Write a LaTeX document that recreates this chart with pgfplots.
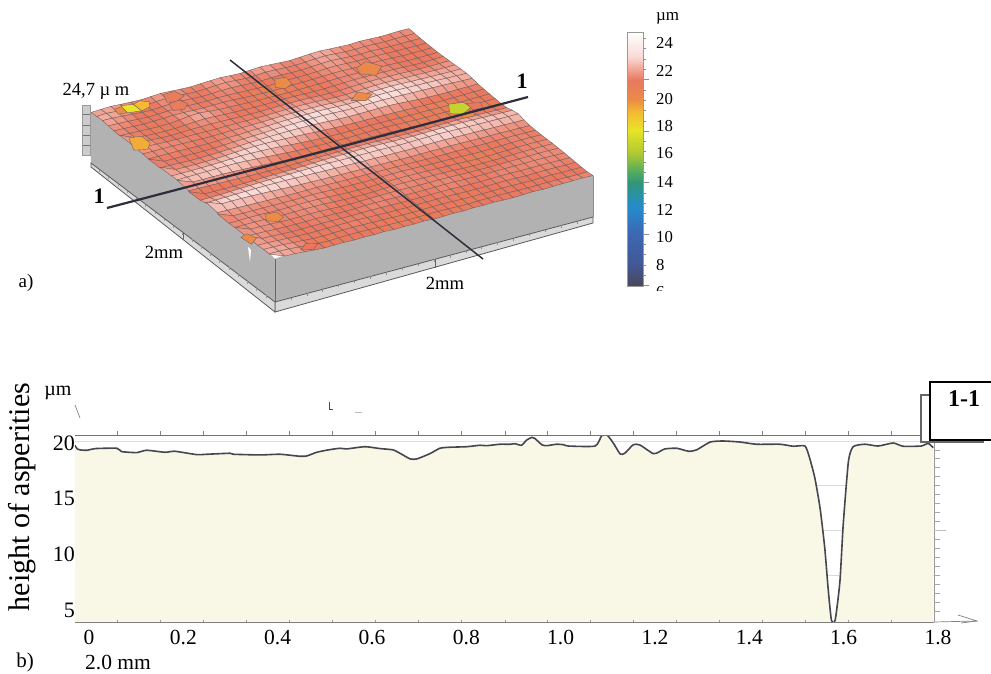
\documentclass[border=0pt]{standalone}
\usepackage{fontspec}
\setmainfont{Liberation Serif}
\usepackage{pgfplots}
\usepackage{pgfplotstable}
\pgfplotsset{compat=1.18}
\definecolor{cma}{RGB}{72,72,88}
\definecolor{cmb}{RGB}{66,88,150}
\definecolor{cmc}{RGB}{60,105,180}
\definecolor{cmd}{RGB}{35,140,205}
\definecolor{cme}{RGB}{50,150,120}
\definecolor{cmf}{RGB}{90,175,90}
\definecolor{cmg}{RGB}{175,200,50}
\definecolor{cmh}{RGB}{232,228,40}
\definecolor{cmi}{RGB}{245,185,50}
\definecolor{cmj}{RGB}{235,140,70}
\definecolor{cmk}{RGB}{233,120,96}
\definecolor{cml}{RGB}{241,165,150}
\definecolor{cmm}{RGB}{249,218,214}
\definecolor{cmn}{RGB}{255,255,255}
\definecolor{meshc}{RGB}{120,96,96}
\definecolor{wallc}{RGB}{178,178,178}
\definecolor{plinth}{RGB}{218,218,218}
\definecolor{paper}{RGB}{249,247,229}
\definecolor{prof}{RGB}{70,70,78}
\definecolor{lined}{RGB}{45,45,60}
\pgfdeclareverticalshading{cbar}{100bp}{color(0bp)=(cma);color(25bp)=(cma);color(29.35bp)=(cmb);color(35.6bp)=(cmc);color(40.5bp)=(cmd);color(45.4bp)=(cme);color(47.85bp)=(cmf);color(51.1bp)=(cmg);color(55.7bp)=(cmh);color(59.25bp)=(cmi);color(61.7bp)=(cmj);color(65.5bp)=(cmk);color(67.65bp)=(cml);color(70.1bp)=(cmm);color(75bp)=(cmn);color(100bp)=(cmn)}
\pgfplotstableread{
x y
-0.030 19.80
-0.025 19.47
-0.019 19.38
-0.004 19.35
0.013 19.50
0.059 19.53
0.069 19.23
0.101 19.14
0.122 19.35
0.161 19.17
0.182 19.26
0.228 18.96
0.250 18.99
0.299 19.08
0.306 18.99
0.363 18.93
0.405 18.99
0.447 18.81
0.462 18.84
0.483 19.17
0.507 19.38
0.532 19.53
0.546 19.47
0.585 19.67
0.617 19.50
0.645 19.38
0.663 18.99
0.681 18.57
0.695 18.57
0.723 19.05
0.744 19.53
0.765 19.62
0.801 19.67
0.829 19.80
0.843 19.76
0.871 19.89
0.893 19.89
0.903 19.94
0.917 19.80
0.928 20.27
0.939 20.51
0.945 20.42
0.960 19.85
0.970 19.76
0.991 19.89
1.006 19.85
1.016 19.73
1.073 19.73
1.087 20.66
1.099 20.69
1.112 19.97
1.126 19.02
1.136 19.08
1.154 19.85
1.168 19.82
1.196 19.05
1.207 19.17
1.221 19.47
1.246 19.53
1.271 19.26
1.288 19.38
1.317 20.09
1.345 20.18
1.380 20.09
1.415 19.89
1.465 19.89
1.493 19.71
1.518 19.73
1.528 18.63
1.539 16.83
1.550 14.14
1.560 10.54
1.567 6.95
1.574 4.10
1.582 4.10
1.592 7.54
1.599 12.64
1.610 18.33
1.620 19.67
1.645 19.89
1.673 19.73
1.705 20.00
1.726 19.71
1.765 19.73
1.779 19.97
1.790 19.58
}\profile
\begin{document}
\begin{tikzpicture}
\path[use as bounding box] (0,0) rectangle (991pt,673pt);
% ---------- surface ----------
\begin{axis}[anchor=origin,at={(275pt,370pt)},disabledatascaling,
  x={(159pt,42pt)},y={(-92pt,73.5pt)},z={(0pt,2pt)},
  xmin=0,xmax=2,ymin=0,ymax=2,zmin=-10,zmax=30,hide axis,clip=false,
  point meta min=6.4,point meta max=24.8,
  colormap={scale}{color(64)=(cma);color(80)=(cmb);color(103)=(cmc);color(121)=(cmd);color(139)=(cme);color(148)=(cmf);color(160)=(cmg);color(177)=(cmh);color(190)=(cmi);color(199)=(cmj);color(213)=(cmk);color(221)=(cml);color(230)=(cmm);color(248)=(cmn)}]
\addplot3[fill=wallc,draw=none,no marks] coordinates {(0,0,0.5)(2,0,1)(2,0,21.7)(1.9,0,23)(0.1,0,23)(0,0,22.1)} -- cycle;
\addplot3[fill=wallc,draw=none,no marks] coordinates {(0,0,0.5)(0,2,-3.5)(0,2,21.8)(0,1.9,23)(0,0.1,23)(0,0,22.1)} -- cycle;
\addplot3[fill=plinth,draw=black!65,line width=0.8pt,no marks] coordinates {(0,0,-4.5)(2,0,-2)(2,0,1)(0,0,0.5)} -- cycle;
\addplot3[fill=plinth,draw=black!65,line width=0.8pt,no marks] coordinates {(0,0,-4.5)(0,2,-5.5)(0,2,-3.5)(0,0,0.5)} -- cycle;
\addplot3[draw=black!60,line width=0.8pt,no marks] coordinates {(0,0,0.5)(0,0,21.9)};
\addplot3[draw=black!45,line width=0.6pt,no marks] coordinates {(2,0,1)(2,0,21.7)};
\addplot3[surf,shader=faceted,faceted color=meshc,line width=0.42pt,mesh/cols=33,z buffer=none,point meta=z]
 table[row sep=crcr,header=false,x expr={mod(\coordindex,33)*0.0625},y expr={(32-floor(\coordindex/33))*0.0625},z index=0]{
21.8\\22.0\\22.2\\21.9\\21.7\\21.5\\21.8\\22.1\\21.9\\21.6\\21.4\\21.7\\21.9\\22.1\\21.8\\21.6\\21.9\\22.2\\22.0\\21.7\\21.5\\21.8\\22.1\\22.3\\22.0\\21.8\\21.6\\21.9\\21.7\\21.5\\21.6\\21.8\\21.7\\
22.1\\22.3\\22.0\\21.7\\21.4\\21.3\\21.6\\21.9\\21.8\\21.5\\21.3\\21.5\\21.8\\22.0\\21.7\\21.4\\21.6\\21.9\\21.8\\21.5\\21.4\\21.7\\22.0\\22.2\\21.9\\21.6\\21.5\\21.7\\21.5\\21.4\\21.5\\21.6\\21.5\\
22.3\\22.2\\21.9\\21.6\\21.2\\21.0\\21.4\\21.7\\21.6\\21.4\\21.2\\21.4\\21.6\\21.7\\21.5\\21.2\\21.2\\21.4\\21.5\\21.3\\21.3\\21.6\\21.9\\22.1\\21.8\\21.5\\21.4\\21.6\\21.4\\21.3\\21.4\\21.4\\21.4\\
22.0\\21.8\\21.6\\21.3\\21.1\\21.2\\21.5\\21.6\\21.5\\21.3\\21.3\\21.5\\21.5\\21.4\\21.2\\21.0\\20.9\\21.0\\21.2\\21.2\\21.3\\21.5\\21.8\\21.9\\21.7\\21.5\\21.5\\21.6\\21.4\\21.3\\21.3\\21.3\\21.3\\
21.7\\21.6\\21.4\\21.2\\21.3\\21.5\\21.7\\21.7\\21.5\\21.4\\21.5\\21.6\\21.5\\21.2\\21.0\\20.9\\20.8\\20.9\\21.0\\21.1\\21.3\\21.5\\21.6\\21.7\\21.5\\21.4\\21.5\\21.6\\21.4\\21.2\\21.2\\21.2\\21.3\\
21.6\\21.5\\21.3\\21.1\\21.0\\21.1\\21.6\\22.2\\22.5\\22.0\\21.6\\21.5\\21.3\\21.1\\21.0\\21.0\\20.9\\20.9\\21.0\\21.1\\21.2\\21.4\\21.5\\21.6\\21.5\\21.4\\21.5\\21.5\\21.3\\21.1\\21.1\\21.2\\21.3\\
21.8\\21.6\\21.3\\21.0\\20.9\\21.0\\21.3\\21.7\\21.9\\21.7\\21.5\\21.3\\21.2\\21.1\\21.1\\21.2\\21.3\\21.3\\21.2\\21.1\\21.1\\21.3\\21.5\\21.7\\21.7\\21.6\\21.6\\21.6\\21.4\\21.2\\21.2\\21.4\\21.5\\
22.1\\21.8\\21.5\\21.2\\21.1\\21.2\\21.4\\21.5\\21.6\\21.5\\21.4\\21.3\\21.3\\21.3\\21.4\\21.5\\21.6\\21.6\\21.5\\21.3\\21.2\\21.3\\21.6\\21.8\\21.9\\21.9\\21.8\\21.8\\21.6\\21.5\\21.5\\21.6\\21.7\\
22.0\\21.9\\21.7\\21.5\\21.5\\21.5\\21.5\\21.4\\21.4\\21.5\\21.5\\21.5\\21.5\\21.6\\21.8\\21.9\\22.0\\22.0\\21.9\\21.7\\21.5\\21.5\\21.7\\22.0\\22.2\\22.3\\22.2\\22.1\\22.0\\21.9\\21.9\\21.9\\21.9\\
21.7\\21.7\\21.7\\21.7\\21.6\\21.5\\21.4\\21.4\\21.5\\21.6\\21.7\\21.8\\21.9\\22.1\\22.3\\22.4\\22.4\\22.4\\22.3\\22.1\\22.0\\22.0\\22.2\\22.6\\22.7\\22.8\\22.7\\22.5\\22.4\\22.3\\22.2\\22.2\\22.2\\
21.5\\21.5\\21.5\\21.5\\21.4\\21.3\\21.3\\21.4\\21.6\\21.7\\21.9\\22.1\\22.3\\22.5\\22.7\\22.8\\22.9\\23.0\\22.9\\22.7\\22.6\\22.7\\22.9\\23.1\\23.2\\23.1\\23.0\\22.9\\22.8\\22.7\\22.5\\22.4\\22.3\\
21.4\\21.3\\21.3\\21.3\\21.2\\21.2\\21.3\\21.5\\21.8\\22.0\\22.2\\22.4\\22.7\\22.9\\23.0\\23.1\\23.2\\23.2\\23.1\\22.9\\22.8\\22.9\\23.0\\23.1\\23.0\\22.9\\22.8\\22.7\\22.6\\22.5\\22.4\\22.2\\22.1\\
21.6\\21.5\\21.4\\21.3\\21.3\\21.4\\21.6\\21.8\\22.1\\22.4\\22.6\\22.8\\22.9\\23.0\\23.0\\22.9\\22.8\\22.6\\22.4\\22.3\\22.3\\22.4\\22.5\\22.5\\22.3\\22.0\\21.7\\21.5\\21.4\\21.4\\21.5\\21.5\\21.6\\
21.9\\21.8\\21.7\\21.7\\21.8\\21.9\\22.2\\22.5\\22.8\\22.9\\23.0\\22.9\\22.7\\22.5\\22.3\\22.0\\21.8\\21.6\\21.5\\21.4\\21.4\\21.4\\21.4\\21.3\\21.2\\21.1\\21.0\\20.9\\20.9\\21.0\\21.1\\21.2\\21.3\\
22.2\\22.2\\22.2\\22.3\\22.4\\22.6\\22.8\\23.0\\23.0\\22.9\\22.7\\22.4\\22.0\\21.7\\21.4\\21.2\\21.1\\21.0\\21.0\\21.1\\21.2\\21.2\\21.1\\21.0\\21.0\\21.0\\21.0\\20.9\\20.9\\20.9\\21.0\\21.1\\21.2\\
22.5\\22.6\\22.7\\22.8\\22.9\\23.0\\23.0\\22.8\\22.5\\22.2\\21.9\\21.6\\21.3\\21.1\\21.0\\21.0\\21.0\\21.0\\21.1\\21.2\\21.3\\21.3\\21.2\\21.1\\21.0\\20.9\\21.0\\21.0\\20.9\\20.9\\21.0\\21.1\\21.1\\
22.3\\22.4\\22.4\\22.4\\22.4\\22.3\\22.1\\21.9\\21.6\\21.3\\21.1\\21.0\\21.0\\21.0\\21.1\\21.2\\21.2\\21.2\\21.3\\21.3\\21.3\\21.2\\21.1\\21.0\\20.9\\20.9\\21.0\\21.0\\21.1\\21.0\\21.0\\21.0\\21.0\\
21.7\\21.6\\21.5\\21.4\\21.3\\21.2\\21.1\\21.0\\21.0\\20.9\\20.9\\21.0\\21.1\\21.2\\21.3\\21.4\\21.5\\21.6\\21.6\\21.5\\21.4\\21.4\\21.3\\21.3\\21.3\\21.4\\21.5\\21.6\\21.6\\21.5\\21.4\\21.3\\21.2\\
21.2\\21.1\\21.0\\21.0\\21.0\\21.1\\21.2\\21.4\\21.5\\21.6\\21.7\\21.9\\22.1\\22.3\\22.4\\22.5\\22.6\\22.7\\22.7\\22.6\\22.5\\22.5\\22.4\\22.5\\22.6\\22.7\\22.7\\22.7\\22.6\\22.5\\22.4\\22.3\\22.2\\
21.5\\21.6\\21.7\\21.9\\22.1\\22.3\\22.5\\22.6\\22.7\\22.8\\22.9\\23.0\\23.1\\23.1\\23.0\\23.0\\23.0\\23.0\\23.0\\22.9\\22.8\\22.9\\23.0\\23.1\\23.2\\23.1\\23.0\\22.9\\22.8\\22.8\\22.7\\22.7\\22.7\\
22.4\\22.6\\22.7\\22.9\\23.0\\23.1\\23.2\\23.2\\23.2\\23.1\\23.0\\22.9\\22.8\\22.7\\22.6\\22.6\\22.5\\22.5\\22.4\\22.4\\22.3\\22.3\\22.4\\22.5\\22.5\\22.4\\22.3\\22.3\\22.2\\22.1\\22.1\\22.0\\22.0\\
22.8\\23.0\\23.1\\23.1\\23.0\\22.9\\22.7\\22.5\\22.3\\22.2\\22.1\\22.0\\21.9\\21.9\\21.8\\21.8\\21.8\\21.7\\21.7\\21.6\\21.6\\21.6\\21.7\\21.7\\21.8\\21.7\\21.7\\21.6\\21.6\\21.6\\21.5\\21.5\\21.5\\
22.2\\22.1\\22.0\\21.9\\21.8\\21.7\\21.7\\21.6\\21.6\\21.6\\21.7\\21.7\\21.6\\21.6\\21.5\\21.6\\21.6\\21.5\\21.5\\21.4\\21.4\\21.3\\21.3\\21.3\\21.4\\21.4\\21.3\\21.3\\21.4\\21.5\\21.5\\21.4\\21.4\\
21.6\\21.6\\21.6\\21.6\\21.6\\21.6\\21.6\\21.5\\21.6\\21.7\\21.6\\21.5\\21.4\\21.3\\21.2\\21.3\\21.5\\21.6\\21.6\\21.5\\21.4\\21.3\\21.2\\21.2\\21.1\\21.0\\20.9\\21.0\\21.2\\21.4\\21.5\\21.5\\21.4\\
21.5\\21.6\\21.7\\21.7\\21.6\\21.5\\21.6\\21.7\\21.8\\21.7\\21.5\\21.3\\21.1\\21.0\\21.0\\21.2\\21.4\\21.6\\21.6\\21.5\\21.4\\21.3\\21.2\\21.1\\20.9\\20.8\\20.9\\21.0\\21.2\\21.4\\21.5\\21.5\\21.5\\
21.6\\21.7\\21.8\\21.7\\21.6\\21.5\\21.6\\21.7\\21.7\\21.6\\21.4\\21.2\\21.1\\21.1\\21.2\\21.4\\21.6\\21.7\\21.6\\21.5\\21.5\\21.4\\21.3\\21.1\\21.0\\21.0\\21.1\\21.2\\21.4\\21.5\\21.6\\21.6\\21.6\\
21.7\\21.8\\21.8\\21.7\\21.5\\21.4\\21.5\\21.6\\21.6\\21.4\\21.2\\21.2\\21.3\\21.4\\21.5\\21.6\\21.7\\21.6\\21.5\\21.5\\21.6\\21.5\\21.4\\21.3\\21.3\\21.3\\21.4\\21.5\\21.5\\21.6\\21.7\\21.7\\21.6\\
21.8\\21.8\\21.7\\21.5\\21.4\\21.3\\21.4\\21.5\\21.4\\21.3\\21.2\\21.3\\21.5\\21.6\\21.6\\21.5\\21.5\\21.4\\21.4\\21.5\\21.6\\21.6\\21.5\\21.4\\21.4\\21.5\\21.5\\21.6\\21.6\\21.7\\21.7\\21.6\\21.6\\
21.9\\21.8\\21.6\\21.4\\21.2\\21.2\\21.3\\21.4\\21.4\\21.3\\21.3\\21.4\\21.5\\21.5\\21.4\\21.3\\21.3\\21.3\\21.4\\21.5\\21.5\\21.4\\21.3\\21.3\\21.4\\21.5\\21.6\\21.5\\21.5\\21.6\\21.6\\21.5\\21.5\\
22.0\\21.9\\21.7\\21.5\\21.3\\21.2\\21.2\\21.3\\21.4\\21.5\\21.5\\21.4\\21.3\\21.2\\21.1\\21.1\\21.2\\21.3\\21.4\\21.4\\21.3\\21.2\\21.2\\21.3\\21.4\\21.5\\21.4\\21.3\\21.4\\21.5\\21.5\\21.4\\21.4\\
22.2\\22.1\\22.0\\21.7\\21.4\\21.1\\21.0\\21.2\\21.4\\21.5\\21.4\\21.3\\21.2\\21.1\\21.0\\21.0\\21.1\\21.2\\21.3\\21.2\\21.1\\21.0\\21.1\\21.2\\21.3\\21.3\\21.2\\21.2\\21.3\\21.4\\21.3\\21.3\\21.3\\
22.3\\22.3\\22.1\\21.8\\21.4\\21.0\\20.9\\21.1\\21.3\\21.3\\21.2\\21.1\\21.0\\21.0\\20.9\\21.0\\21.1\\21.2\\21.1\\21.0\\21.0\\21.1\\21.2\\21.3\\21.2\\21.2\\21.1\\21.2\\21.3\\21.2\\21.2\\21.2\\21.3\\
22.1\\22.2\\22.0\\21.7\\21.3\\21.0\\21.1\\21.2\\21.0\\21.2\\21.1\\21.3\\21.0\\21.2\\21.1\\21.3\\21.0\\21.1\\21.3\\21.1\\21.4\\21.3\\21.5\\21.3\\21.2\\21.4\\21.6\\21.4\\21.6\\21.7\\21.8\\21.9\\21.7\\
};
% spots of other height colours
\addplot3[fill=cmh,draw=meshc,line width=0.4pt,no marks] coordinates {(0.17,1.90,21.7)(0.25,1.88,21.7)(0.25,1.97,21.7)(0.18,1.99,21.7)} -- cycle;
\addplot3[fill=cmi,draw=meshc,line width=0.4pt,no marks] coordinates {(0.25,1.88,21.7)(0.31,1.90,21.7)(0.34,1.95,21.7)(0.30,1.99,21.7)(0.25,1.97,21.7)} -- cycle;
\addplot3[fill=cmj,draw=meshc,line width=0.4pt,no marks] coordinates {(0.12,1.91,21.7)(0.17,1.90,21.7)(0.18,1.98,21.7)(0.13,1.97,21.7)} -- cycle;
\addplot3[fill=cmi!70!cmj,draw=meshc,line width=0.4pt,no marks] coordinates {(-0.02,1.50,21.7)(0.05,1.47,21.7)(0.10,1.53,21.7)(0.10,1.62,21.7)(0.03,1.64,21.7)} -- cycle;
\addplot3[fill=cmj,draw=meshc,line width=0.4pt,no marks] coordinates {(1.02,1.76,21.7)(1.06,1.72,21.7)(1.12,1.75,21.7)(1.13,1.83,21.7)(1.07,1.85,21.7)} -- cycle;
\addplot3[fill=cmk!80!cmj,draw=meshc,line width=0.4pt,no marks] coordinates {(0.42,1.90,21.7)(0.47,1.88,21.7)(0.54,1.92,21.7)(0.52,1.99,21.7)(0.45,1.99,21.7)} -- cycle;
\addplot3[fill=cmk!80!cmj,draw=meshc,line width=0.4pt,no marks] coordinates {(0.40,1.80,21.7)(0.46,1.78,21.7)(0.51,1.83,21.7)(0.49,1.89,21.7)(0.42,1.88,21.7)} -- cycle;
\addplot3[fill=cmg!60!cmh,draw=meshc,line width=0.4pt,no marks] coordinates {(1.69,1.02,21.7)(1.75,0.98,21.7)(1.83,1.03,21.7)(1.82,1.10,21.7)(1.74,1.12,21.7)} -- cycle;
\addplot3[fill=cmk,draw=meshc,line width=0.4pt,no marks] coordinates {(1.82,1.00,21.7)(1.88,0.99,21.7)(1.90,1.05,21.7)(1.83,1.08,21.7)} -- cycle;
\addplot3[fill=cmj,draw=meshc,line width=0.4pt,no marks] coordinates {(1.72,0.94,21.7)(1.79,0.93,21.7)(1.82,0.97,21.7)(1.75,0.99,21.7)} -- cycle;
\addplot3[fill=cmj!80!cmk,draw=meshc,line width=0.4pt,no marks] coordinates {(1.50,1.67,21.7)(1.57,1.61,21.7)(1.65,1.69,21.7)(1.60,1.78,21.7)(1.52,1.74,21.7)} -- cycle;
\addplot3[fill=cmj,draw=meshc,line width=0.4pt,no marks] coordinates {(1.30,1.42,21.7)(1.37,1.38,21.7)(1.44,1.43,21.7)(1.38,1.49,21.7)} -- cycle;
\addplot3[fill=cmj,draw=meshc,line width=0.4pt,no marks] coordinates {(0.19,0.42,21.7)(0.24,0.38,21.7)(0.29,0.41,21.7)(0.29,0.48,21.7)(0.22,0.49,21.7)} -- cycle;
\addplot3[fill=cmj,draw=meshc,line width=0.4pt,no marks] coordinates {(-0.02,0.22,21.7)(0.04,0.27,21.7)(0.02,0.34,21.7)(-0.03,0.32,21.7)} -- cycle;
\addplot3[fill=cmk,draw=meshc,line width=0.4pt,no marks] coordinates {(0.18,0.03,21.7)(0.24,0.00,21.7)(0.30,0.05,21.7)(0.24,0.08,21.7)} -- cycle;
\end{axis}
% ---------- colour scale ----------
\shade[shading=cbar] (627pt,387pt) rectangle (643pt,641pt);
\begin{axis}[at={(627pt,387pt)},anchor=south west,scale only axis,width=16pt,height=254pt,
  xmin=0,xmax=1,ymin=6.4,ymax=24.8,xtick=\empty,ytick pos=right,
  ytick={6.43,10.16,13.89,17.62,21.35,25.08},yticklabels={},minor y tick num=4,
  tick align=outside,major tick length=6pt,minor tick length=3pt,
  every tick/.style={draw=black!45,line width=0.6pt},
  axis line style={draw=black!40,line width=0.6pt}]
\end{axis}
% ---------- profile ----------
\begin{scope}[x=1pt,y=-1pt,shift={(0pt,673pt)}]
\draw[black!12,line width=0.8pt] (75,441)--(934,441);
\foreach \yy in {485,530,575}{\draw[black!15,line width=0.7pt] (800,\yy)--(934,\yy);}
\end{scope}
\begin{axis}[at={(75pt,51pt)},anchor=south west,scale only axis,width=863pt,height=187pt,
  xmin=-0.0297,xmax=1.8,ymin=3.92,ymax=20.72,
  axis line style={draw=none},major tick length=0pt,
  xtick={0,0.2,0.4,0.6,0.8,1.0,1.2,1.4,1.6,1.8},xticklabels={0,0.2,0.4,0.6,0.8,1.0,1.2,1.4,1.6,1.8},
  ytick={5,10,15,20},yticklabels={5,10,15,20},clip mode=individual,
  xticklabel style={font=\fontsize{21.5}{24}\selectfont,inner sep=0pt,yshift=-8pt,anchor=north},
  yticklabel style={font=\fontsize{22}{24}\selectfont,inner sep=0pt,anchor=east}]
\addplot[fill=paper,draw=none,no marks] table[x=x,y=y]{\profile} \closedcycle;
\addplot[prof,line width=1.6pt,no marks,smooth,tension=0.35] table[x=x,y=y]{\profile};
\end{axis}
% ---------- decoration and texts, in picture pixels ----------
\begin{scope}[x=1pt,y=-1pt,shift={(0pt,673pt)}]
% plinth ticks
\foreach \a in {0.05,0.10,...,1.0}{\draw[black!45,line width=0.45pt] ({275+318*\a},{302-85*\a})--({275+318*\a},{302-85*\a+2.5});}
\foreach \a in {0.05,0.10,...,1.0}{\draw[black!40,line width=0.45pt] ({275-185*\a},{302-139*\a})--({275-185*\a},{302-139*\a+2.5});}
\draw[black!60,line width=0.7pt] (435,259)--(435,268);
\draw[black!60,line width=0.7pt] (183,232)--(183,240);
\fill[white] (248,247)--(250,262)--(251,250)--cycle;
% scale at the left corner
\fill[black!20] (82,105) rectangle (90,155);
\draw[black!40,line width=0.5pt] (82,105) rectangle (90,155);
\foreach \yy in {114,125,135,145}{\draw[black!55,line width=0.5pt] (83,\yy)--(90,\yy);}
% section lines
\draw[lined,line width=1.5pt] (230,60)--(483,259);
\draw[lined,line width=2.2pt] (107,208)--(340,147)--(528,97);
% texts of panel a
\node[font=\fontsize{22}{24}\selectfont\bfseries] at (99,196) {1};
\node[font=\fontsize{22}{24}\selectfont\bfseries] at (522,81) {1};
\node[font=\fontsize{18.6}{22}\selectfont] at (164,252) {2mm};
\node[font=\fontsize{18.6}{22}\selectfont] at (445,283) {2mm};
\node[font=\fontsize{18.5}{22}\selectfont] at (96,91) {24,7 µ m};
\node[font=\fontsize{19}{22}\selectfont] at (26,283) {a)};
% labels of the colour scale
\foreach \v/\yy in {24/43,22/71,20/99,18/126,16/153,14/182,12/210,10/237,8/265,6/292}{
  \node[font=\fontsize{16.7}{18}\selectfont,anchor=west,inner sep=0pt] at (656,\yy) {\v};}
\fill[white] (650,291) rectangle (690,303);
\node[font=\fontsize{17}{18}\selectfont,anchor=west,inner sep=0pt] at (656,18) {µm};
% frame of the profile
\draw[black!55,line width=0.9pt] (75,435)--(934,435);
\draw[black!50,line width=0.8pt] (75,622)--(934,622);
\draw[black!40,line width=0.7pt] (934,441)--(934,622);
\foreach \xx in {117,160,203,246,289,332,375,418,461,505,547,590,633,676,719,762,805,848,891}{
  \draw[black!50,line width=0.6pt] (\xx,435)--(\xx,431);
  \draw[black!40,line width=0.5pt] (\xx,622)--(\xx,620);}
\foreach \yy in {450,458,467,476,485,494,503,512,521,530,539,548,557,566,575,584,593,602,611}{
  \draw[black!35,line width=0.5pt] (934,\yy)--(940,\yy);}
\draw[black!25,line width=0.7pt] (934,530)--(946,530);
\draw[black!50,line width=0.7pt] (934,622)--(977,621);
\draw[black!50,line width=0.7pt] (958,615)--(977,621)--(961,623);
\draw[black!55,line width=0.6pt] (75,405)--(80,418);
\draw[black!70,line width=0.7pt] (329,402)--(329,409)--(333,409);
\draw[black!25,line width=0.6pt] (355,412)--(362,412);
% box 1-1
\draw[black!60,line width=1.2pt] (921,395) rectangle (983,442);
\fill[white] (922,396) rectangle (930,441);
\filldraw[fill=white,draw=black,line width=1.8pt] (930,382) rectangle (996,440);
\node[font=\fontsize{24}{26}\selectfont\bfseries] at (964,399) {1-1};
% texts of panel b
\node[font=\fontsize{30}{32}\selectfont,rotate=90] at (22,497) {height of asperities};
\node[font=\fontsize{20}{22}\selectfont] at (58,393) {µm};
\node[font=\fontsize{21}{24}\selectfont] at (25,662) {b)};
\node[font=\fontsize{21.5}{24}\selectfont,anchor=west,inner sep=0pt] at (85,663) {2.0 mm};
\end{scope}
\end{tikzpicture}
\end{document}
